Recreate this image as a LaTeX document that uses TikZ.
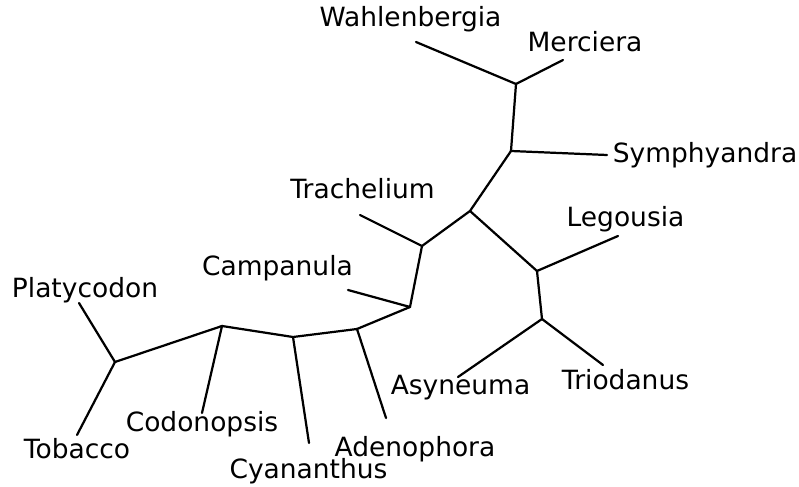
\documentclass[tikz,border=0pt]{standalone}
\usepackage{fontspec}
\setmainfont{DejaVu Sans}
\usepackage{tikz}
\usetikzlibrary{positioning}

\begin{document}
\begin{tikzpicture}[
  x=0.03cm, y=-0.03cm,
  every node/.style={font=\fontsize{22.6pt}{26pt}\selectfont},
  taxon/.style={anchor=base, inner sep=0pt, text=black},
  branch/.style={draw=black, line width=1.9pt, line cap=round, line join=round}
]
\useasboundingbox (0,0) rectangle (799,487);
% inner vertices
\coordinate (n1) at (115,362);
\coordinate (n2) at (222,326);
\coordinate (n3) at (293,337);
\coordinate (n4) at (357,329);
\coordinate (n5) at (410,307);
\coordinate (n6) at (422,246);
\coordinate (n7) at (470,211);
\coordinate (n8) at (511,151);
\coordinate (n9) at (516,84);
\coordinate (n10) at (537,271);
\coordinate (n11) at (542,319);
% leaf ends
\coordinate (wah) at (416,42);
\coordinate (mer) at (563,60);
\coordinate (sym) at (607,155);
\coordinate (tra) at (360,215);
\coordinate (leg) at (618,236);
\coordinate (cam) at (348,290);
\coordinate (pla) at (79,303);
\coordinate (asy) at (458,377);
\coordinate (tri) at (603,365);
\coordinate (cod) at (202,413);
\coordinate (tob) at (77,435);
\coordinate (cya) at (309,443);
\coordinate (ade) at (386,418);
% labels
\node[taxon] (wahlab) at (410.5,27) {Wahlenbergia};
\node[taxon] (merlab) at (585,52) {Merciera};
\node[taxon] (symlab) at (705,163) {Symphyandra};
\node[taxon] (tralab) at (362.5,199) {Trachelium};
\node[taxon] (leglab) at (625.5,227) {Legousia};
\node[taxon] (camlab) at (277.5,276) {Campanula};
\node[taxon] (plalab) at (85,298) {Platycodon};
\node[taxon] (asylab) at (460.5,395) {Asyneuma};
\node[taxon] (trilab) at (625.5,390) {Triodanus};
\node[taxon] (codlab) at (202,432) {Codonopsis};
\node[taxon] (toblab) at (77,459) {Tobacco};
\node[taxon] (adelab) at (415,457) {Adenophora};
\node[taxon] (cyalab) at (308.5,479) {Cyananthus};
% branches
\foreach \a/\b in {n1/pla, n1/tob, n1/n2, n2/cod, n2/n3, n3/cya, n3/n4, n4/ade,
                   n4/n5, n5/cam, n5/n6, n6/tra, n6/n7, n7/n8, n8/sym, n8/n9,
                   n9/wah, n9/mer, n7/n10, n10/leg, n10/n11, n11/asy, n11/tri}
  \draw[branch] (\a) -- (\b);
\end{tikzpicture}
\end{document}
